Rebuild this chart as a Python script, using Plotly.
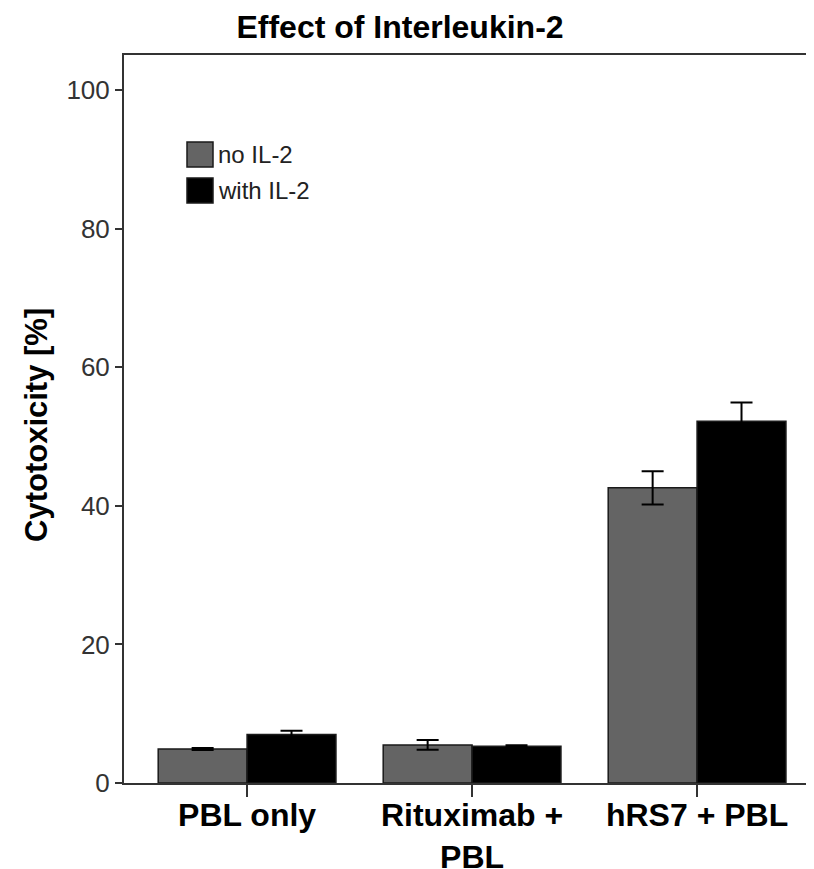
import plotly.graph_objects as go

categories = ["PBL only", "Rituximab +<br>PBL", "hRS7 + PBL"]
series_names = ["no IL-2", "with IL-2"]
no_il2 = [4.9, 5.5, 42.6]
no_il2_err = [0.15, 0.7, 2.4]
with_il2 = [7.0, 5.3, 52.2]
with_il2_err = [0.55, 0.15, 2.7]
y_ticks = [0, 20, 40, 60, 80, 100]

colors = ["#646464", "#000000"]
FONT = "Arial, Liberation Sans, Helvetica, sans-serif"

# page body has an 8px margin; layout numbers below are in figure pixels
OFF = 8
L, T = 124 - OFF, 55 - OFF
W_FIG, H_FIG = 814, 869
PW = W_FIG - L
PH = 728
B = H_FIG - T - PH


def px(xs):  # screen x -> paper
    return (xs - 124) / PW


def py(ys):  # screen y -> paper
    return (783 - ys) / PH


fig = go.Figure()
for name, vals, errs, col in zip(series_names, [no_il2, with_il2], [no_il2_err, with_il2_err], colors):
    fig.add_trace(go.Bar(
        x=categories, y=vals, name=name,
        marker=dict(color=col, line=dict(color="#1a1a1a", width=1.5)),
        error_y=dict(type="data", array=errs, visible=True, color="#000000", thickness=2, width=11),
        showlegend=False,
    ))

# legend drawn as boxes + text
legend_rows = [(142, 167), (178, 203)]
for (top, bot), name, col in zip(legend_rows, series_names, colors):
    fig.add_shape(type="rect", xref="paper", yref="paper",
                  x0=px(187), x1=px(213), y0=py(bot), y1=py(top),
                  fillcolor=col, line=dict(color="#1a1a1a", width=1.5))
    fig.add_annotation(xref="paper", yref="paper", x=px(216), y=py((top + bot) / 2),
                       text=name, showarrow=False, xanchor="left", yanchor="middle",
                       font=dict(family=FONT, size=24, color="#222222"))

fig.add_annotation(xref="paper", yref="paper", x=px(36), y=py(425),
                   text="<b>Cytotoxicity [%]</b>", textangle=-90, showarrow=False,
                   xanchor="center", yanchor="middle",
                   font=dict(family=FONT, size=31, color="#000000"))

fig.update_layout(
    width=W_FIG, height=H_FIG,
    margin=dict(l=L, r=0, t=T, b=B, autoexpand=False),
    paper_bgcolor="white", plot_bgcolor="white",
    barmode="group", bargap=0.21, bargroupgap=0,
    title=dict(text="<b>Effect of Interleukin-2</b>", x=(400 - OFF) / W_FIG, xanchor="center",
               xref="container", yref="container", y=1 - (27 - OFF) / H_FIG, yanchor="middle",
               font=dict(family=FONT, size=32, color="#000000")),
    xaxis=dict(
        range=[-0.547, -0.547 + PW / 225], showline=True, linecolor="#333333", linewidth=2, mirror=True,
        ticks="outside", ticklen=12, tickwidth=1.5, tickcolor="#333333",
        tickfont=dict(family=FONT, size=32, color="#000000"),
        showgrid=False, zeroline=False, tickprefix="<b>", ticksuffix="</b>",
        automargin=False, ticklabelstandoff=-9,
    ),
    yaxis=dict(
        range=[0, 105.05], tickvals=y_ticks, showline=True, linecolor="#333333", linewidth=2,
        ticks="outside", ticklen=7, tickwidth=1.5, tickcolor="#333333",
        tickfont=dict(family=FONT, size=26, color="#333333"),
        showgrid=False, zeroline=False, automargin=False,
    ),
)

fig.write_html("out.html")
